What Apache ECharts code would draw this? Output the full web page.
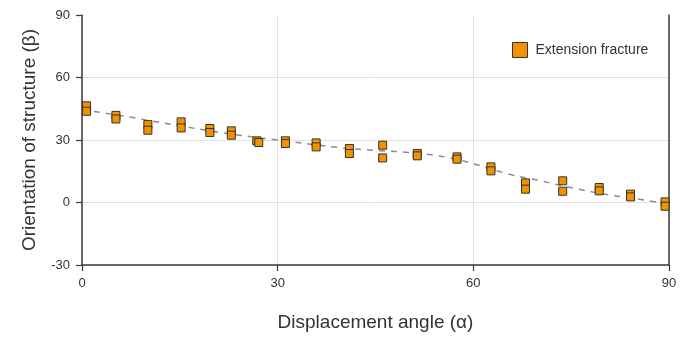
<!DOCTYPE html>
<html>
<head>
<meta charset="utf-8">
<script src="https://cdn.jsdelivr.net/npm/echarts@6/dist/echarts.min.js"></script>
<style>
  html, body { margin: 0; padding: 0; background: #fff; }
  #chart { width: 690px; height: 337px; }
</style>
</head>
<body>
<div id="chart"></div>
<script>
// Measured fracture orientations: displacement angle (alpha) vs. structure orientation (beta)
const alphaValues = [
  0.7, 0.7, 5.2, 5.2, 10.1, 10.1, 15.2, 15.2, 19.6, 19.6,
  22.9, 22.9, 26.8, 27.1, 31.2, 31.2, 35.9, 35.9, 41.0, 41.0,
  46.1, 46.1, 51.4, 51.4, 57.5, 57.5, 62.7, 62.7, 68.0, 68.0,
  73.7, 73.7, 79.3, 79.3, 84.1, 84.1, 89.4, 89.4
];
const betaValues = [
  46.4, 43.8, 41.8, 40.1, 37.4, 34.7, 38.7, 35.8, 35.5, 33.6,
  34.4, 32.3, 29.6, 28.8, 29.6, 28.3, 28.6, 26.7, 25.9, 23.5,
  27.5, 21.4, 23.5, 22.4, 21.9, 20.8, 17.1, 15.2, 9.4, 6.4,
  10.4, 5.4, 7.2, 5.6, 4.0, 2.7, 0.3, -1.8
];

// Fitted trend through the measurements
const trendAlpha = [0, 6, 10, 15, 20, 26, 30, 35, 40, 45, 50, 55, 58, 60, 66, 70, 75, 80, 85, 90];
const trendBeta  = [44.5, 41.7, 39.5, 36.8, 34.2, 31.5, 30.0, 28.0, 26.2, 25.0, 24.0, 22.2, 20.3, 18.6, 13.2, 10.6, 7.1, 4.1, 1.8, -0.8];

const xTicks = { min: 0, max: 90, interval: 30 };
const yTicks = { min: -30, max: 90, interval: 30 };

const seriesName = 'Extension fracture';
const xTitle = 'Displacement angle (\u03b1)';
const yTitle = 'Orientation of structure (\u03b2)';

const points = alphaValues.map((a, i) => [a, betaValues[i]]);
const trend = trendAlpha.map((a, i) => [a, trendBeta[i]]);

const font = '"Liberation Sans", Arial, sans-serif';
const axisDark = '#3a3a3a';
const gridGrey = '#e2e2e2';

const chart = echarts.init(document.getElementById('chart'), null, { renderer: 'canvas' });
chart.setOption({
  animation: false,
  backgroundColor: '#ffffff',
  textStyle: { fontFamily: font },
  grid: { left: 82, right: 21, top: 15, bottom: 72, containLabel: false },
  legend: {
    data: [seriesName],
    left: 507,
    top: 37,
    itemWidth: 15,
    itemHeight: 15,
    icon: 'rect',
    itemStyle: { borderColor: '#333', borderWidth: 1 },
    textStyle: { fontFamily: font, fontSize: 14, color: '#333', padding: [0, 0, 0, 3] }
  },
  xAxis: {
    type: 'value',
    min: xTicks.min, max: xTicks.max, interval: xTicks.interval,
    name: xTitle,
    nameLocation: 'middle',
    nameGap: 48,
    nameTextStyle: { fontFamily: font, fontSize: 19, color: '#333' },
    axisLine: { show: true, onZero: false, lineStyle: { color: axisDark, width: 1.5 } },
    axisTick: { show: true, length: 6, lineStyle: { color: axisDark, width: 1.2 } },
    axisLabel: { margin: 12, fontFamily: font, fontSize: 13, color: '#333' },
    splitLine: { show: true, lineStyle: { color: gridGrey, width: 1 } }
  },
  yAxis: [{
    type: 'value',
    min: yTicks.min, max: yTicks.max, interval: yTicks.interval,
    name: yTitle,
    nameLocation: 'middle',
    nameGap: 43,
    nameTextStyle: { fontFamily: font, fontSize: 19, color: '#333' },
    axisLine: { show: true, onZero: false, lineStyle: { color: axisDark, width: 1.5 } },
    axisTick: { show: true, length: 6, lineStyle: { color: axisDark, width: 1.2 } },
    axisLabel: { margin: 12, fontFamily: font, fontSize: 13, color: '#333' },
    // no rule along the top edge of the plot
    splitLine: { show: true, lineStyle: { color: [gridGrey, gridGrey, gridGrey, gridGrey, 'rgba(0,0,0,0)'], width: 1 } }
  }, {
    type: 'value',
    position: 'right',
    min: yTicks.min, max: yTicks.max, interval: yTicks.interval,
    axisLine: { show: true, onZero: false, lineStyle: { color: axisDark, width: 1.5 } },
    axisTick: { show: false },
    axisLabel: { show: false },
    splitLine: { show: false }
  }],
  series: [{
    name: 'trend',
    type: 'line',
    data: trend,
    smooth: true,
    symbol: 'none',
    silent: true,
    z: 1,
    lineStyle: { color: '#8c8c8c', width: 1.5, type: [6, 6] }
  }, {
    name: seriesName,
    type: 'scatter',
    data: points,
    symbol: 'rect',
    symbolSize: 8,
    clip: false,
    z: 3,
    itemStyle: { color: '#F39200', borderColor: '#333', borderWidth: 1, opacity: 1 }
  }]
});
</script>
</body>
</html>
